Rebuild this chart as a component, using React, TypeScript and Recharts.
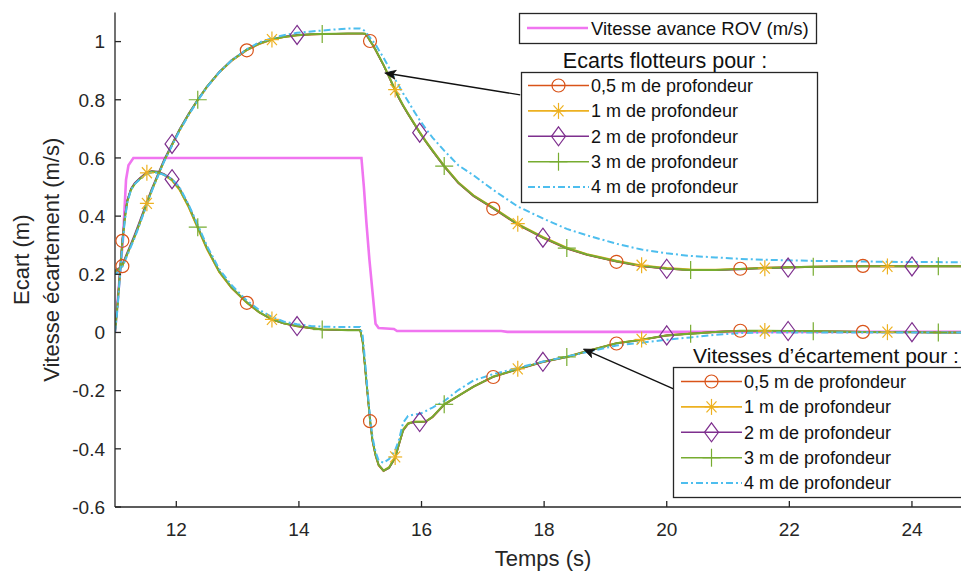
import React from 'react';
import { LineChart, Line, XAxis, YAxis, Legend, ReferenceLine } from 'recharts';

// ---------- data ----------
const T = [11.0, 11.04, 11.08, 11.12, 11.16, 11.2, 11.26, 11.32, 11.4, 11.52, 11.6, 11.7, 11.8, 11.93, 12.05, 12.2, 12.35, 12.5, 12.7, 12.9, 13.15, 13.35, 13.56, 13.75, 13.97, 14.2, 14.38, 14.6, 14.8, 15.0, 15.04, 15.08, 15.12, 15.16, 15.2, 15.25, 15.3, 15.38, 15.47, 15.57, 15.63, 15.7, 15.78, 15.88, 15.97, 16.07, 16.18, 16.37, 16.6, 16.85, 17.17, 17.57, 17.98, 18.37, 18.7, 19.18, 19.59, 20.0, 20.39, 20.8, 21.2, 21.6, 21.98, 22.39, 22.8, 23.2, 23.6, 24.0, 24.43, 24.8];

const ecart05 = [0.205, 0.212, 0.218, 0.228, 0.248, 0.268, 0.298, 0.328, 0.372, 0.442, 0.487, 0.538, 0.588, 0.643, 0.693, 0.748, 0.798, 0.843, 0.893, 0.933, 0.97, 0.991, 1.006, 1.015, 1.021, 1.024, 1.025, 1.026, 1.027, 1.027, 1.027, 1.026, 1.016, 1.002, 0.989, 0.97, 0.95, 0.918, 0.878, 0.83, 0.805, 0.778, 0.75, 0.716, 0.686, 0.655, 0.623, 0.57, 0.513, 0.468, 0.426, 0.37, 0.325, 0.288, 0.266, 0.243, 0.227, 0.219, 0.214, 0.215, 0.219, 0.223, 0.225, 0.227, 0.228, 0.229, 0.229, 0.229, 0.229, 0.229];
const ecart1 = [0.208, 0.214, 0.22, 0.229, 0.249, 0.269, 0.299, 0.329, 0.374, 0.444, 0.489, 0.539, 0.589, 0.644, 0.694, 0.749, 0.799, 0.844, 0.894, 0.934, 0.971, 0.992, 1.007, 1.016, 1.022, 1.025, 1.026, 1.027, 1.028, 1.028, 1.028, 1.027, 1.018, 1.004, 0.991, 0.973, 0.953, 0.921, 0.882, 0.835, 0.81, 0.782, 0.754, 0.72, 0.69, 0.659, 0.627, 0.574, 0.517, 0.472, 0.43, 0.374, 0.329, 0.292, 0.27, 0.247, 0.231, 0.222, 0.217, 0.216, 0.218, 0.221, 0.223, 0.225, 0.226, 0.227, 0.227, 0.227, 0.227, 0.227];
const ecart2 = [0.212, 0.218, 0.224, 0.234, 0.255, 0.276, 0.306, 0.337, 0.381, 0.45, 0.495, 0.545, 0.594, 0.648, 0.698, 0.752, 0.801, 0.846, 0.896, 0.936, 0.973, 0.994, 1.009, 1.017, 1.023, 1.025, 1.026, 1.027, 1.028, 1.028, 1.028, 1.027, 1.017, 1.003, 0.99, 0.972, 0.951, 0.919, 0.879, 0.832, 0.806, 0.779, 0.751, 0.717, 0.687, 0.656, 0.624, 0.571, 0.514, 0.469, 0.427, 0.371, 0.326, 0.289, 0.267, 0.244, 0.228, 0.219, 0.214, 0.214, 0.217, 0.221, 0.223, 0.225, 0.226, 0.227, 0.227, 0.227, 0.227, 0.227];
const ecart3 = [0.21, 0.215, 0.22, 0.23, 0.25, 0.27, 0.3, 0.33, 0.375, 0.445, 0.49, 0.54, 0.59, 0.645, 0.695, 0.75, 0.8, 0.845, 0.895, 0.935, 0.972, 0.993, 1.008, 1.016, 1.022, 1.025, 1.026, 1.027, 1.028, 1.028, 1.028, 1.027, 1.017, 1.003, 0.99, 0.972, 0.952, 0.92, 0.88, 0.833, 0.808, 0.78, 0.752, 0.718, 0.688, 0.657, 0.625, 0.572, 0.515, 0.47, 0.428, 0.372, 0.327, 0.29, 0.268, 0.245, 0.229, 0.22, 0.215, 0.215, 0.218, 0.222, 0.224, 0.226, 0.227, 0.228, 0.228, 0.228, 0.228, 0.228];
const ecart4 = [0.2, 0.206, 0.214, 0.226, 0.245, 0.265, 0.295, 0.325, 0.37, 0.44, 0.486, 0.537, 0.587, 0.642, 0.692, 0.747, 0.797, 0.843, 0.894, 0.935, 0.974, 0.997, 1.012, 1.022, 1.03, 1.035, 1.038, 1.042, 1.045, 1.045, 1.042, 1.035, 1.025, 1.014, 1.003, 0.99, 0.972, 0.945, 0.91, 0.87, 0.848, 0.822, 0.795, 0.76, 0.73, 0.7, 0.67, 0.625, 0.575, 0.54, 0.49, 0.433, 0.392, 0.356, 0.334, 0.305, 0.285, 0.272, 0.263, 0.258, 0.253, 0.25, 0.248, 0.246, 0.245, 0.244, 0.243, 0.242, 0.242, 0.241];

const vit05 = [0.0, 0.095, 0.205, 0.315, 0.395, 0.452, 0.492, 0.512, 0.529, 0.55, 0.554, 0.551, 0.542, 0.523, 0.492, 0.432, 0.359, 0.287, 0.208, 0.153, 0.102, 0.069, 0.044, 0.031, 0.021, 0.014, 0.01, 0.009, 0.008, 0.008, -0.035, -0.125, -0.215, -0.305, -0.375, -0.425, -0.458, -0.477, -0.466, -0.432, -0.388, -0.338, -0.315, -0.308, -0.308, -0.307, -0.292, -0.249, -0.219, -0.187, -0.153, -0.127, -0.102, -0.085, -0.065, -0.038, -0.026, -0.011, -0.004, 0.002, 0.006, 0.006, 0.005, 0.004, 0.003, 0.002, 0.001, 0.001, 0.0, 0.0];
const vit1 = [0.0, 0.092, 0.202, 0.312, 0.392, 0.451, 0.491, 0.511, 0.528, 0.549, 0.553, 0.55, 0.541, 0.522, 0.49, 0.43, 0.357, 0.285, 0.207, 0.152, 0.102, 0.069, 0.045, 0.032, 0.022, 0.015, 0.011, 0.01, 0.009, 0.009, -0.032, -0.122, -0.212, -0.302, -0.372, -0.422, -0.456, -0.474, -0.462, -0.428, -0.382, -0.332, -0.311, -0.306, -0.306, -0.305, -0.289, -0.246, -0.217, -0.185, -0.151, -0.125, -0.1, -0.083, -0.063, -0.036, -0.024, -0.009, -0.003, 0.002, 0.005, 0.005, 0.004, 0.004, 0.003, 0.002, 0.001, 0.001, 0.0, 0.0];
const vit2 = [0.0, 0.1, 0.212, 0.322, 0.4, 0.456, 0.495, 0.514, 0.53, 0.551, 0.555, 0.553, 0.545, 0.527, 0.498, 0.438, 0.364, 0.291, 0.211, 0.155, 0.104, 0.07, 0.045, 0.032, 0.022, 0.015, 0.01, 0.009, 0.008, 0.008, -0.03, -0.12, -0.21, -0.3, -0.37, -0.42, -0.455, -0.475, -0.466, -0.432, -0.386, -0.336, -0.314, -0.308, -0.308, -0.306, -0.29, -0.248, -0.218, -0.186, -0.152, -0.126, -0.101, -0.084, -0.064, -0.037, -0.025, -0.01, -0.004, 0.002, 0.006, 0.006, 0.005, 0.004, 0.003, 0.002, 0.001, 0.001, 0.0, 0.0];
const vit3 = [0.0, 0.09, 0.2, 0.31, 0.39, 0.45, 0.49, 0.51, 0.527, 0.548, 0.553, 0.551, 0.543, 0.525, 0.495, 0.435, 0.362, 0.29, 0.21, 0.155, 0.104, 0.07, 0.045, 0.032, 0.022, 0.015, 0.01, 0.009, 0.008, 0.008, -0.03, -0.12, -0.21, -0.3, -0.37, -0.42, -0.455, -0.475, -0.465, -0.43, -0.385, -0.335, -0.313, -0.307, -0.307, -0.306, -0.29, -0.247, -0.218, -0.186, -0.152, -0.126, -0.101, -0.084, -0.064, -0.037, -0.025, -0.01, -0.004, 0.002, 0.006, 0.006, 0.005, 0.004, 0.003, 0.002, 0.001, 0.001, 0.0, 0.0];
const vit4 = [0.0, 0.08, 0.19, 0.3, 0.385, 0.445, 0.49, 0.51, 0.525, 0.545, 0.55, 0.549, 0.542, 0.527, 0.5, 0.44, 0.37, 0.298, 0.218, 0.163, 0.11, 0.078, 0.053, 0.038, 0.028, 0.022, 0.02, 0.019, 0.019, 0.019, -0.01, -0.1, -0.2, -0.29, -0.36, -0.41, -0.44, -0.448, -0.435, -0.405, -0.37, -0.31, -0.287, -0.282, -0.28, -0.27, -0.258, -0.236, -0.198, -0.165, -0.143, -0.122, -0.1, -0.083, -0.067, -0.045, -0.035, -0.025, -0.017, -0.008, -0.002, 0.0, 0.0, 0.0, 0.0, 0.0, 0.0, 0.0, 0.0, 0.0];

const rovT = [11.0, 11.06, 11.13, 11.18, 11.22, 11.3, 15.02, 15.06, 15.1, 15.15, 15.2, 15.25, 15.3, 15.55, 15.6, 17.3, 17.4, 24.8];
const rovV = [0.0, 0.15, 0.32, 0.525, 0.575, 0.6, 0.6, 0.5, 0.38, 0.25, 0.14, 0.03, 0.015, 0.012, 0.005, 0.005, 0.002, 0.002];

const markCircle = [11.12, 13.15, 15.16, 17.17, 19.18, 21.2, 23.2];
const markStar = [11.52, 13.56, 15.57, 17.57, 19.59, 21.6, 23.6];
const markDiamond = [11.93, 13.97, 15.97, 17.98, 20.0, 21.98, 24.0];
const markPlus = [12.35, 14.38, 16.37, 18.37, 20.39, 22.39, 24.43];

const xTicks = [12, 14, 16, 18, 20, 22, 24];
const yTicks = [-0.6, -0.4, -0.2, 0, 0.2, 0.4, 0.6, 0.8, 1];

const depthLabels = ['0,5 m de profondeur', '1 m de profondeur', '2 m de profondeur', '3 m de profondeur', '4 m de profondeur'];
const rovLabel = 'Vitesse avance ROV (m/s)';
const ecartTitle = 'Ecarts flotteurs pour :';
const vitTitle = 'Vitesses d\u2019\u00e9cartement pour :';

// ---------- styles ----------
const FONT = '"Liberation Sans", Arial, Helvetica, sans-serif';
const AX = '#262626';
const COLORS = ['#D95319', '#EDB120', '#7E2F8E', '#77AC30', '#4DBEEE'];
const ROV_COLOR = '#F075F0';
const KINDS = ['circle', 'star', 'diamond', 'plus', 'none'];
const MARKS = [markCircle, markStar, markDiamond, markPlus, []];

const toPts = (xs: number[], ys: number[]) => xs.map((t, i) => ({ t, v: ys[i] }));

const ecartSeries = [ecart05, ecart1, ecart2, ecart3, ecart4];
const vitSeries = [vit05, vit1, vit2, vit3, vit4];

function Marker({ kind, cx, cy, color }: any) {
  const sw = 1.2;
  if (kind === 'circle') return <circle cx={cx} cy={cy} r={6.5} fill="none" stroke={color} strokeWidth={sw} />;
  if (kind === 'diamond')
    return <polygon points={`${cx},${cy - 9.5} ${cx + 7},${cy} ${cx},${cy + 9.5} ${cx - 7},${cy}`} fill="none" stroke={color} strokeWidth={sw} />;
  if (kind === 'plus')
    return (
      <g stroke={color} strokeWidth={sw}>
        <line x1={cx - 9} x2={cx + 9} y1={cy} y2={cy} />
        <line x1={cx} x2={cx} y1={cy - 9} y2={cy + 9} />
      </g>
    );
  if (kind === 'star')
    return (
      <g stroke={color} strokeWidth={sw}>
        <line x1={cx - 7} x2={cx + 7} y1={cy} y2={cy} />
        <line x1={cx} x2={cx} y1={cy - 8} y2={cy + 8} />
        <line x1={cx - 5} x2={cx + 5} y1={cy - 5.5} y2={cy + 5.5} />
        <line x1={cx - 5} x2={cx + 5} y1={cy + 5.5} y2={cy - 5.5} />
      </g>
    );
  return null;
}

const makeDot = (kind: string, color: string, times: number[], tag: string) => (p: any) => {
  const key = `${tag}-${p.index}`;
  if (p && p.payload && times.includes(p.payload.t) && p.cx != null && p.cy != null) {
    return <Marker key={key} kind={kind} cx={p.cx} cy={p.cy} color={color} />;
  }
  return <g key={key} />;
};

const Arrow = (props: any) => {
  const { x1, y1, x2, y2 } = props;
  if ([x1, y1, x2, y2].some((v) => v == null || isNaN(v))) return <g />;
  const ang = Math.atan2(y2 - y1, x2 - x1);
  const L = 11;
  const W = 4.5;
  const c = Math.cos(ang);
  const s = Math.sin(ang);
  const bx = x2 - L * c;
  const by = y2 - L * s;
  const nx = x2 - L * 0.75 * c;
  const ny = y2 - L * 0.75 * s;
  return (
    <g>
      <line x1={x1} y1={y1} x2={nx} y2={ny} stroke="#111" strokeWidth={1.4} />
      <polygon
        points={`${x2},${y2} ${bx - W * s},${by + W * c} ${nx},${ny} ${bx + W * s},${by - W * c}`}
        fill="#111"
        stroke="#111"
        strokeWidth={0.8}
      />
    </g>
  );
};

function LegendSample({ x, y, i }: any) {
  const color = COLORS[i];
  return (
    <g>
      <line
        x1={x}
        x2={x + 61}
        y1={y}
        y2={y}
        stroke={color}
        strokeWidth={i === 4 ? 2 : 1.6}
        strokeDasharray={i === 4 ? '7 3 2 3' : undefined}
      />
      <Marker kind={KINDS[i]} cx={x + 30.5} cy={y} color={color} />
    </g>
  );
}

const LegendOverlay = () => (
  <svg width={961} height={571} style={{ position: 'absolute', left: 0, top: 0, pointerEvents: 'none' }} fontFamily={FONT}>
    <rect x={519.5} y={13.5} width={297} height={30} fill="#fff" stroke={AX} strokeWidth={1.3} />
    <line x1={527} x2={588} y1={28} y2={28} stroke={ROV_COLOR} strokeWidth={2.6} />
    <text x={591} y={34.5} fontSize={18.5} fill="#111">{rovLabel}</text>

    <text x={665} y={67.5} textAnchor="middle" fontSize={21.5} fill="#111">{ecartTitle}</text>
    <rect x={521.5} y={72.5} width={296} height={130} fill="#fff" stroke={AX} strokeWidth={1.3} />
    {depthLabels.map((lab, i) => (
      <g key={`e${i}`}>
        <LegendSample x={528} y={85.5 + i * 25.4} i={i} />
        <text x={591} y={85.5 + i * 25.4 + 6.3} fontSize={18} fill="#111">{lab}</text>
      </g>
    ))}

    <text x={826} y={362.5} textAnchor="middle" fontSize={21} fill="#111">{vitTitle}</text>
    <rect x={673.5} y={367.5} width={300} height={130} fill="#fff" stroke={AX} strokeWidth={1.3} />
    {depthLabels.map((lab, i) => (
      <g key={`v${i}`}>
        <LegendSample x={681} y={381.5 + i * 25.4} i={i} />
        <text x={744} y={381.5 + i * 25.4 + 6.3} fontSize={18} fill="#111">{lab}</text>
      </g>
    ))}
  </svg>
);

const XLabel = (props: any) => {
  const vb = props.viewBox || { x: 115, y: 507, width: 846, height: 64 };
  return (
    <text x={vb.x + vb.width / 2 + 5} y={566} textAnchor="middle" fontSize={22} fill={AX} fontFamily={FONT}>
      Temps (s)
    </text>
  );
};

const YLabel = (props: any) => {
  const vb = props.viewBox || { x: 0, y: 12.5, width: 115, height: 494.5 };
  const cy = vb.y + vb.height / 2;
  const x1 = vb.x + 29;
  const x2 = vb.x + 59;
  return (
    <g fontFamily={FONT} fontSize={22} fill={AX}>
      <text x={x1} y={cy} textAnchor="middle" transform={`rotate(-90, ${x1}, ${cy})`}>Ecart (m)</text>
      <text x={x2} y={cy} textAnchor="middle" transform={`rotate(-90, ${x2}, ${cy})`}>Vitesse {'\u00e9'}cartement (m/s)</text>
    </g>
  );
};

export default function App() {
  return (
    <div style={{ position: 'absolute', left: 0, top: 0, width: 961, height: 571, background: '#fff', fontFamily: FONT }}>
      <LineChart width={961} height={571} margin={{ top: 12.5, right: 0, bottom: 0, left: 0 }}>
        <XAxis
          type="number"
          dataKey="t"
          domain={[11, 24.8]}
          allowDataOverflow
          ticks={xTicks}
          height={64}
          tickSize={-6}
          tickMargin={22}
          stroke={AX}
          strokeWidth={1.3}
          tick={{ fontSize: 19, fill: AX, fontFamily: FONT }}
          label={{ content: XLabel }}
        />
        <YAxis
          type="number"
          dataKey="v"
          domain={[-0.6, 1.1]}
          allowDataOverflow
          ticks={yTicks}
          width={115}
          tickSize={-6}
          tickMargin={16}
          stroke={AX}
          strokeWidth={1.3}
          tick={{ fontSize: 19, fill: AX, fontFamily: FONT }}
          tickFormatter={(v: number) => String(v)}
          label={{ content: YLabel }}
        />
        <Line
          data={toPts(rovT, rovV)}
          dataKey="v"
          type="linear"
          stroke={ROV_COLOR}
          strokeWidth={2.6}
          dot={false}
          activeDot={false}
          isAnimationActive={false}
        />
        {ecartSeries.map((ys, i) => (
          <Line
            key={`ecart${i}`}
            data={toPts(T, ys)}
            dataKey="v"
            type="linear"
            stroke={COLORS[i]}
            strokeWidth={i === 3 ? 2 : i === 4 ? 2 : 1.6}
            strokeDasharray={i === 4 ? '7 3 2 3' : undefined}
            dot={i === 4 ? false : makeDot(KINDS[i], COLORS[i], MARKS[i], `e${i}`)}
            activeDot={false}
            isAnimationActive={false}
          />
        ))}
        {vitSeries.map((ys, i) => (
          <Line
            key={`vit${i}`}
            data={toPts(T, ys)}
            dataKey="v"
            type="linear"
            stroke={COLORS[i]}
            strokeWidth={i === 3 ? 2 : i === 4 ? 2 : 1.6}
            strokeDasharray={i === 4 ? '7 3 2 3' : undefined}
            dot={i === 4 ? false : makeDot(KINDS[i], COLORS[i], MARKS[i], `v${i}`)}
            activeDot={false}
            isAnimationActive={false}
          />
        ))}
        <ReferenceLine
          segment={[{ x: 17.61, y: 0.817 }, { x: 15.4, y: 0.892 }]}
          ifOverflow="visible"
          shape={Arrow}
        />
        <ReferenceLine
          segment={[{ x: 20.11, y: -0.194 }, { x: 18.64, y: -0.057 }]}
          ifOverflow="visible"
          shape={Arrow}
        />
        <Legend
          layout="horizontal"
          verticalAlign="middle"
          align="center"
          content={() => <LegendOverlay />}
          wrapperStyle={{ position: 'absolute', left: 0, top: 0, width: 961, height: 571, pointerEvents: 'none' }}
        />
      </LineChart>
    </div>
  );
}
